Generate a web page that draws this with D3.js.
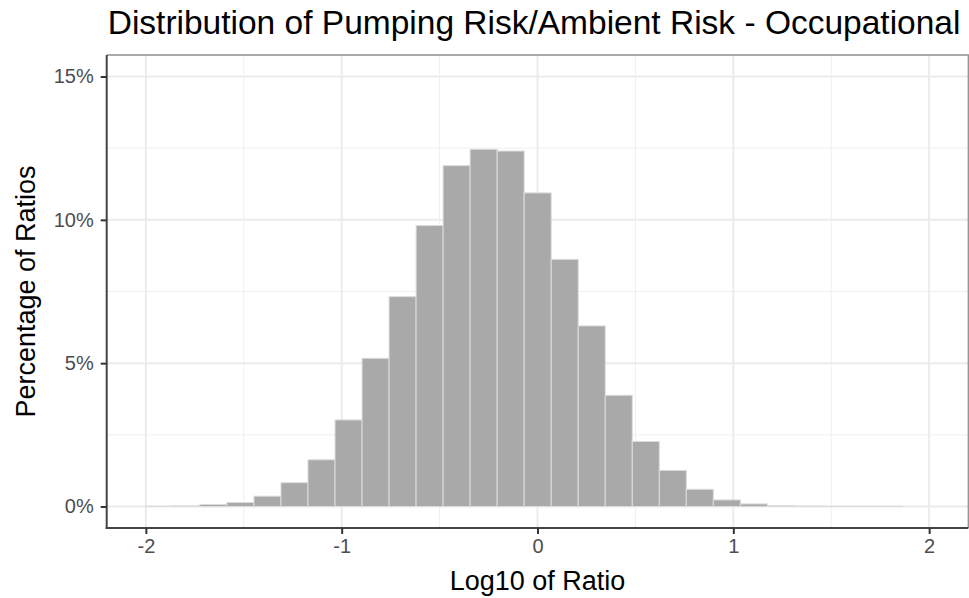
<!DOCTYPE html>
<html>
<head>
<meta charset="utf-8">
<script src="https://cdn.jsdelivr.net/npm/d3@7"></script>
<style>
  body { margin: 0; background: #fff; }
  text { font-family: "Liberation Sans", Arial, sans-serif; }
</style>
</head>
<body>
<div id="chart"></div>
<script>
// histogram bins (left edge, log10 units) and the share of ratios in each one
var binStarts = [-2.000, -1.862, -1.724, -1.586, -1.448, -1.310, -1.172, -1.034,
                 -0.896, -0.758, -0.620, -0.482, -0.344, -0.206, -0.068, 0.070,
                 0.208, 0.346, 0.484, 0.622, 0.760, 0.898, 1.036, 1.174,
                 1.312, 1.450, 1.588, 1.726];
var binWidth = 0.138;
var percents = [0.01, 0.02, 0.07, 0.14, 0.36, 0.83, 1.63, 3.02,
                5.17, 7.32, 9.80, 11.89, 12.46, 12.40, 10.94, 8.62,
                6.30, 3.88, 2.27, 1.26, 0.60, 0.23, 0.09, 0.035,
                0.015, 0.01, 0.01, 0.01];
var xTicks = [-2, -1, 0, 1, 2];
var xMinor = [-1.5, -0.5, 0.5, 1.5];
var yTicks = [0, 5, 10, 15];
var yMinor = [2.5, 7.5, 12.5];

var data = binStarts.map(function(d, i) { return { x0: d, x1: d + binWidth, pct: percents[i] }; });

var W = 969, H = 598;
// panel edges ("top" is taken by window.top, so prefix them)
var pLeft = 106.7, pRight = 968.3, pTop = 55, pBottom = 528;

var svg = d3.select('#chart').append('svg')
    .attr('width', W)
    .attr('height', H);

var x = d3.scaleLinear().domain([-2.2, 2.2]).range([pLeft, pRight]);
var y = d3.scaleLinear().domain([-0.75, 15.75]).range([pBottom, pTop]);

// grid lines
var grid = svg.append('g');
grid.selectAll('.vminor').data(xMinor).enter().append('line')
    .attr('x1', function(d) { return x(d); }).attr('x2', function(d) { return x(d); })
    .attr('y1', pTop).attr('y2', pBottom)
    .attr('stroke', '#efefef').attr('stroke-width', 1);
grid.selectAll('.hminor').data(yMinor).enter().append('line')
    .attr('y1', function(d) { return y(d); }).attr('y2', function(d) { return y(d); })
    .attr('x1', pLeft).attr('x2', pRight)
    .attr('stroke', '#efefef').attr('stroke-width', 1);
grid.selectAll('.vmajor').data(xTicks).enter().append('line')
    .attr('x1', function(d) { return x(d); }).attr('x2', function(d) { return x(d); })
    .attr('y1', pTop).attr('y2', pBottom)
    .attr('stroke', '#ebebeb').attr('stroke-width', 2);
grid.selectAll('.hmajor').data(yTicks).enter().append('line')
    .attr('y1', function(d) { return y(d); }).attr('y2', function(d) { return y(d); })
    .attr('x1', pLeft).attr('x2', pRight)
    .attr('stroke', '#ebebeb').attr('stroke-width', 2);

// bars
svg.selectAll('.bar')
    .data(data)
    .enter().append('rect')
    .attr('class', 'bar')
    .attr('x', function(d) { return x(d.x0); })
    .attr('width', function(d) { return x(d.x1) - x(d.x0); })
    .attr('y', function(d) { return y(d.pct); })
    .attr('height', function(d) { return y(0) - y(d.pct); })
    .attr('fill', '#a9a9a9')
    .attr('stroke', '#dcdcdc')
    .attr('stroke-width', 1);

// panel border: thin grey on top/right
svg.append('path')
    .attr('d', 'M' + pLeft + ',' + pTop + 'H' + pRight + 'V' + pBottom)
    .attr('fill', 'none')
    .attr('stroke', '#8f8f8f')
    .attr('stroke-width', 1.3);

// axes
var yAxis = svg.append('g')
    .attr('transform', 'translate(' + pLeft + ',0)')
    .call(d3.axisLeft(y).tickValues(yTicks).tickSize(6).tickPadding(7)
        .tickFormat(function(d) { return d + '%'; }));
var xAxis = svg.append('g')
    .attr('transform', 'translate(0,' + pBottom + ')')
    .call(d3.axisBottom(x).tickValues(xTicks).tickSize(6).tickPadding(5)
        .tickFormat(function(d) { return d; }));

[yAxis, xAxis].forEach(function(a) {
    a.select('.domain').attr('stroke', '#444').attr('stroke-width', 2);
    a.selectAll('.tick line').attr('stroke', '#333').attr('stroke-width', 2);
    a.selectAll('.tick text')
        .attr('fill', '#4d4d4d')
        .style('font-size', '20px')
        .style('font-family', '"Liberation Sans", Arial, sans-serif');
});
// domain paths only along the panel
yAxis.select('.domain').attr('d', 'M0,' + pTop + 'V' + (pBottom + 1));
xAxis.select('.domain').attr('d', 'M' + (pLeft - 1) + ',0H' + pRight);

// titles
svg.append('text')
    .attr('x', pLeft + 1)
    .attr('y', 33.5)
    .attr('fill', '#000')
    .style('font-size', '33.5px')
    .text('Distribution of Pumping Risk/Ambient Risk - Occupational');

svg.append('text')
    .attr('x', (pLeft + pRight) / 2)
    .attr('y', 590)
    .attr('text-anchor', 'middle')
    .attr('fill', '#000')
    .style('font-size', '27px')
    .text('Log10 of Ratio');

svg.append('text')
    .attr('transform', 'translate(35,' + (pTop + pBottom) / 2 + ') rotate(-90)')
    .attr('text-anchor', 'middle')
    .attr('fill', '#000')
    .style('font-size', '27px')
    .text('Percentage of Ratios');
</script>
</body>
</html>
